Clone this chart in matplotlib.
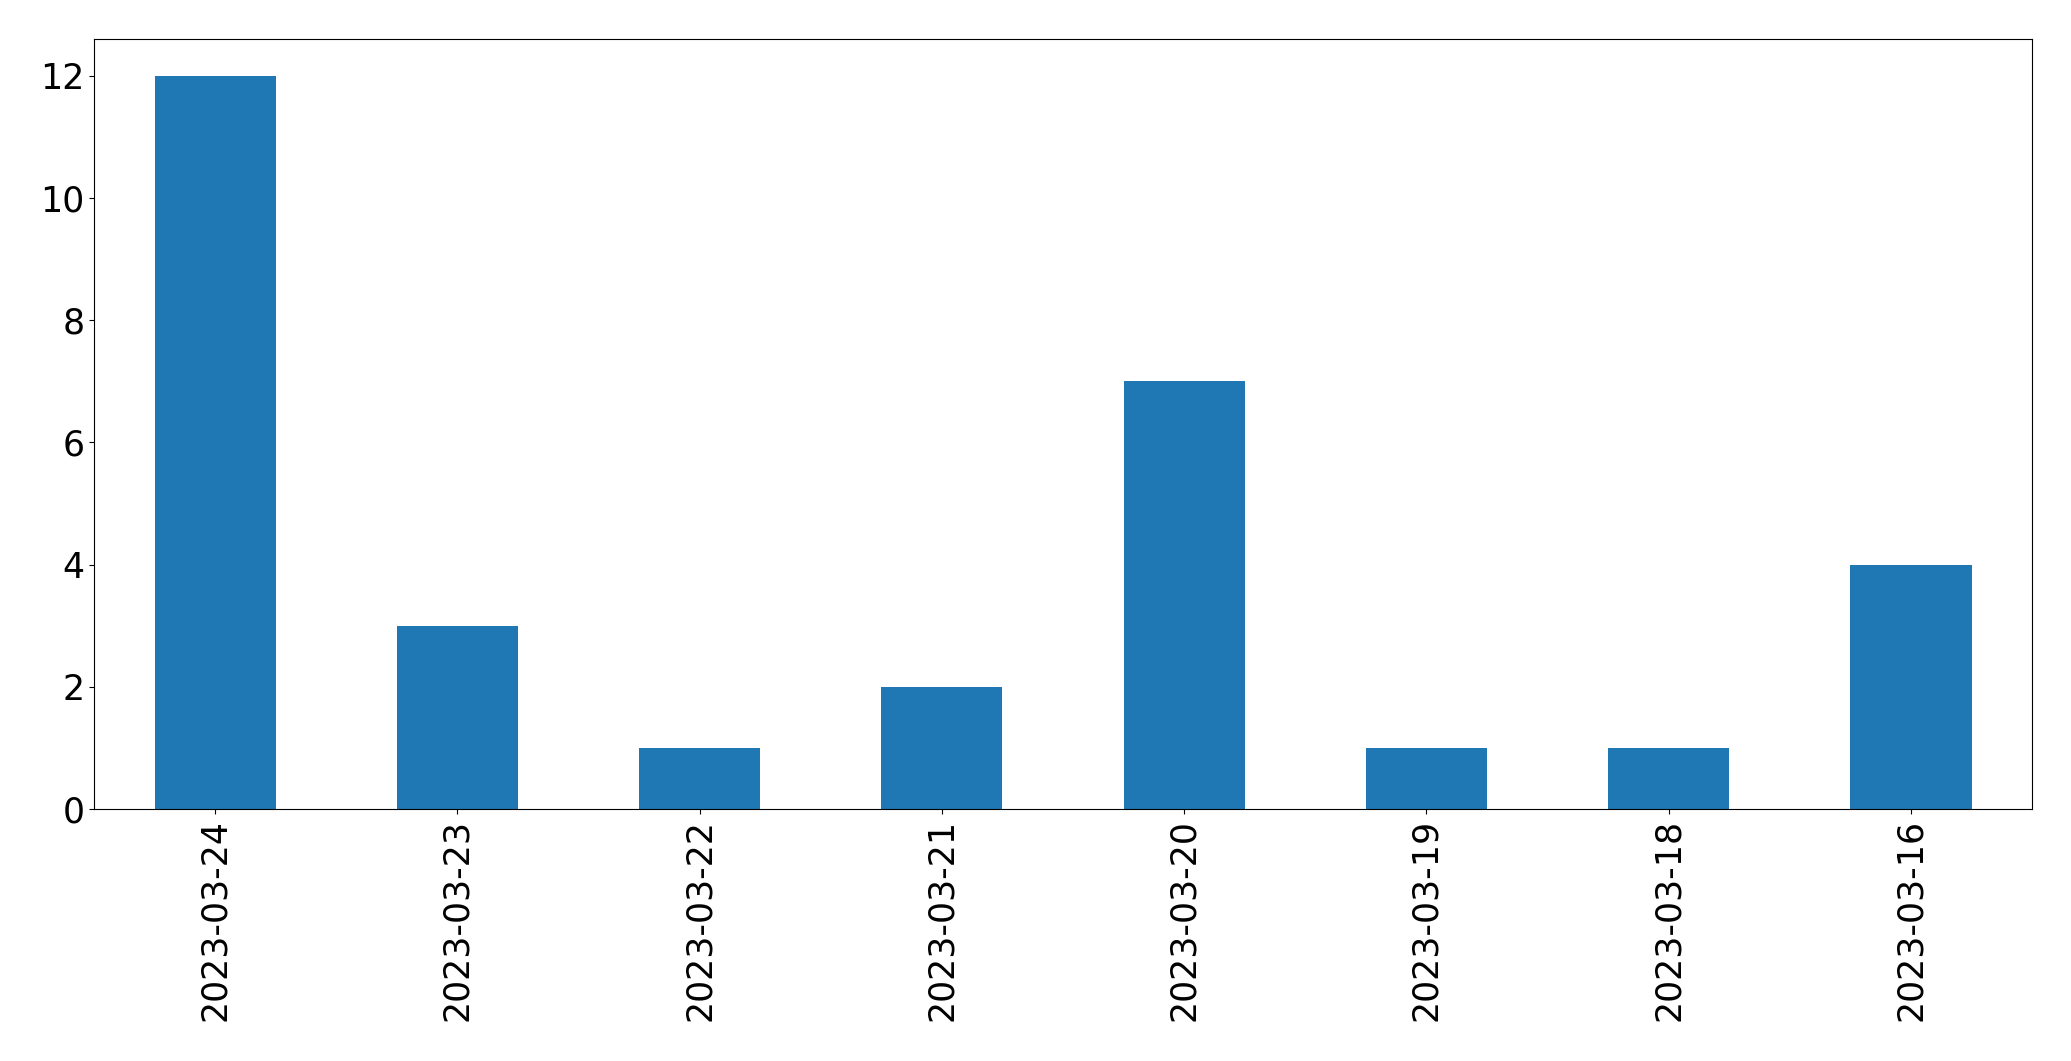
import matplotlib
matplotlib.use("Agg")
import matplotlib.pyplot as plt
import pandas as pd

# datos
fechas = ["2023-03-24", "2023-03-23", "2023-03-22", "2023-03-21",
          "2023-03-20", "2023-03-19", "2023-03-18", "2023-03-16"]
conteos = [12, 3, 1, 2, 7, 1, 1, 4]

serie = pd.Series(conteos, index=fechas)

fig = plt.figure(figsize=(20.71, 10.61), dpi=100)
ax = fig.add_axes([0.0454, 0.2375, 0.9358, 0.7255])
serie.plot(kind="bar", ax=ax, color="#1f77b4", width=0.5)
ax.tick_params(axis="both", labelsize=25)
ax.set_yticks([0, 2, 4, 6, 8, 10, 12])

fig.savefig("out.png", dpi=100)
